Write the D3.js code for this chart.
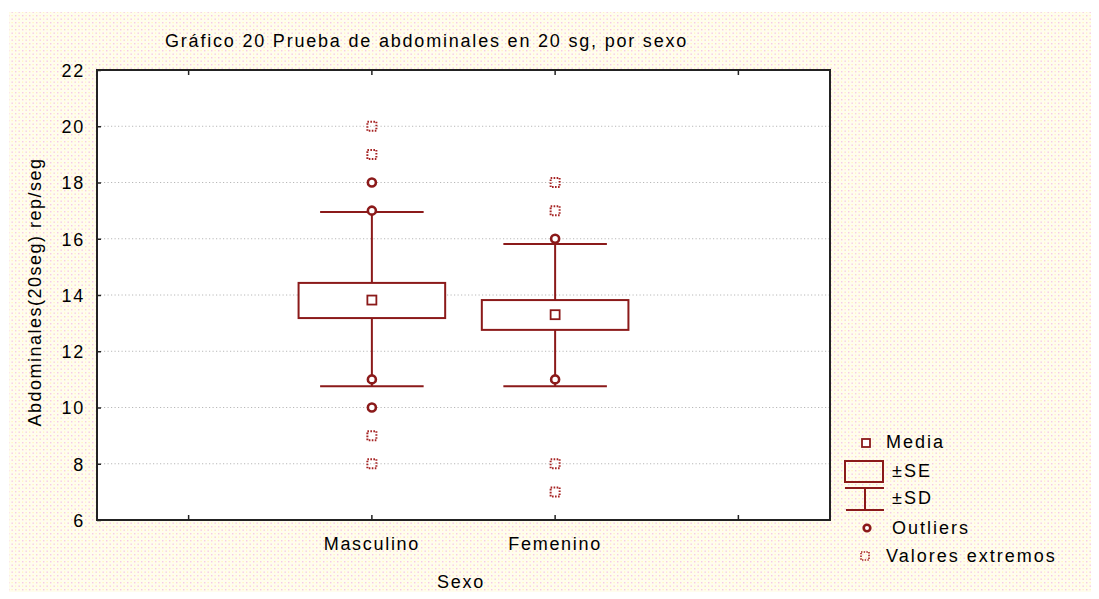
<!DOCTYPE html>
<html>
<head>
<meta charset="utf-8">
<script src="https://cdn.jsdelivr.net/npm/d3@7"></script>
<style>
  html, body { margin: 0; padding: 0; background: #ffffff; }
  svg { display: block; }
  text { font-family: "Liberation Sans", Arial, sans-serif; fill: #000; }
</style>
</head>
<body>
<svg id="chart" width="1099" height="599"></svg>
<script>
// ---- data ----
const categories = ["Masculino", "Femenino"];
const means   = [13.82, 13.30];
const seLow   = [13.18, 12.76];
const seHigh  = [14.43, 13.82];
const sdLow   = [10.76, 10.76];
const sdHigh  = [16.95, 15.81];
const outliers = [[18, 17, 11, 10], [16, 11]];
const extremes = [[20, 19, 9, 8], [18, 17, 8, 7]];
const yTicks = [6, 8, 10, 12, 14, 16, 18, 20, 22];
const gridTicks = [8, 10, 12, 14, 16, 18, 20];
const legendItems = ["Media", "\u00b1SE", "\u00b1SD", "Outliers", "Valores extremos"];
const titleText = "Gr\u00e1fico 20 Prueba de abdominales en 20 sg, por sexo";
const xTitle = "Sexo";
const yTitle = "Abdominales(20seg) rep/seg";

const RED = "#8b1a1a";
const XRED = "#a52222";
const svg = d3.select("#chart");

// background texture
const defs = svg.append("defs");
const pat = defs.append("pattern").attr("id", "tex").attr("patternUnits", "userSpaceOnUse")
  .attr("width", 7).attr("height", 7);
pat.append("rect").attr("width", 7).attr("height", 7).attr("fill", "#fffdee");
pat.append("rect").attr("x", 1).attr("y", 1).attr("width", 1.4).attr("height", 1.4).attr("fill", "#f6c8e6");
pat.append("rect").attr("x", 4.5).attr("y", 4.5).attr("width", 1.4).attr("height", 1.4).attr("fill", "#f6c8e6");
pat.append("rect").attr("x", 4.5).attr("y", 1).attr("width", 1.2).attr("height", 1.2).attr("fill", "#fff4b8");
pat.append("rect").attr("x", 1).attr("y", 4.5).attr("width", 1.2).attr("height", 1.2).attr("fill", "#fff4b8");

svg.append("rect").attr("x", 9).attr("y", 12).attr("width", 1082).attr("height", 580).attr("fill", "url(#tex)");

const L = 97, R = 830, T = 70, B = 520;

const x = d3.scaleBand().domain(["_a", ...categories, "_b"]).range([L, R]).padding(0);
const y = d3.scaleLinear().domain([6, 22]).range([B, T]);
const cx = c => x(c) + x.bandwidth() / 2;

// plot area
svg.append("rect").attr("x", L).attr("y", T).attr("width", R - L).attr("height", B - T).attr("fill", "#fff");

// grid
svg.append("g").selectAll("line").data(gridTicks).join("line")
  .attr("x1", L).attr("x2", R).attr("y1", d => y(d)).attr("y2", d => y(d))
  .attr("stroke", "#b8b8b8").attr("stroke-width", 1).attr("stroke-dasharray", "1.2,2.3");

// axes
const fmtX = d => d.startsWith("_") ? "" : d;
const gB = svg.append("g").attr("transform", `translate(0,${B})`)
  .call(d3.axisBottom(x).tickSizeInner(-5).tickSizeOuter(0).tickPadding(17).tickFormat(fmtX));
const gT = svg.append("g").attr("transform", `translate(0,${T})`)
  .call(d3.axisTop(x).tickSizeInner(-5).tickSizeOuter(0).tickFormat(() => ""));
const gL = svg.append("g").attr("transform", `translate(${L},0)`)
  .call(d3.axisLeft(y).tickValues(yTicks).tickSizeInner(-4).tickSizeOuter(0).tickPadding(12).tickFormat(d3.format("d")));
[gB, gT, gL].forEach(g => {
  g.select(".domain").remove();
  g.selectAll(".tick line").attr("stroke", "#222").attr("stroke-width", 1.5);
  g.selectAll("text").attr("font-size", 18).attr("letter-spacing", "1.7px")
    .attr("font-family", "'Liberation Sans', Arial, sans-serif").attr("fill", "#000");
});
gL.selectAll("text").attr("dy", "0.36em");

// frame
svg.append("rect").attr("x", L).attr("y", T).attr("width", R - L).attr("height", B - T)
  .attr("fill", "none").attr("stroke", "#222").attr("stroke-width", 2);

// box plots
const boxW = x.bandwidth() * 0.8;
const capW = x.bandwidth() * 0.565;
const g = svg.append("g");
categories.forEach((c, i) => {
  const xc = cx(c);
  g.append("line").attr("x1", xc).attr("x2", xc).attr("y1", y(sdHigh[i])).attr("y2", y(seHigh[i]))
    .attr("stroke", RED).attr("stroke-width", 2);
  g.append("line").attr("x1", xc).attr("x2", xc).attr("y1", y(seLow[i])).attr("y2", y(sdLow[i]))
    .attr("stroke", RED).attr("stroke-width", 2);
  [sdHigh[i], sdLow[i]].forEach(v => {
    g.append("line").attr("x1", xc - capW / 2).attr("x2", xc + capW / 2).attr("y1", y(v)).attr("y2", y(v))
      .attr("stroke", RED).attr("stroke-width", 2);
  });
  g.append("rect").attr("x", xc - boxW / 2).attr("y", y(seHigh[i])).attr("width", boxW)
    .attr("height", y(seLow[i]) - y(seHigh[i])).attr("fill", "#fff").attr("stroke", RED).attr("stroke-width", 2);
  g.append("rect").attr("x", xc - 4.5).attr("y", y(means[i]) - 4.5).attr("width", 9).attr("height", 9)
    .attr("fill", "#fff").attr("stroke", RED).attr("stroke-width", 1.8);
  outliers[i].forEach(v => {
    g.append("circle").attr("cx", xc).attr("cy", y(v)).attr("r", 4)
      .attr("fill", "#fff").attr("stroke", RED).attr("stroke-width", 2.6);
  });
  extremes[i].forEach(v => {
    g.append("rect").attr("x", xc - 4.5).attr("y", y(v) - 4.5).attr("width", 9).attr("height", 9)
      .attr("fill", "none").attr("stroke", XRED).attr("stroke-width", 2).attr("stroke-dasharray", "1.6,1.4");
  });
});

// titles
svg.append("text").attr("x", 165).attr("y", 47).attr("font-size", 18).attr("letter-spacing", "1.8px")
  .text(titleText);
svg.append("text").attr("x", 461).attr("y", 588).attr("text-anchor", "middle")
  .attr("font-size", 18).attr("letter-spacing", "1.7px").text(xTitle);
svg.append("text").attr("transform", `translate(41,292) rotate(-90)`)
  .attr("text-anchor", "middle").attr("font-size", 18).attr("letter-spacing", "1.5px").text(yTitle);

// legend
const lg = svg.append("g");
const lt = (xx, yy, t) => lg.append("text").attr("x", xx).attr("y", yy).attr("dy", "0.36em")
  .attr("font-size", 18).attr("letter-spacing", "2px").text(t);
lg.append("rect").attr("x", 862).attr("y", 439).attr("width", 8).attr("height", 8)
  .attr("fill", "#fff").attr("stroke", RED).attr("stroke-width", 1.8);
lt(886, 442, legendItems[0]);
lg.append("rect").attr("x", 845).attr("y", 461).attr("width", 38).attr("height", 21)
  .attr("fill", "none").attr("stroke", RED).attr("stroke-width", 2);
lt(892, 471, legendItems[1]);
lg.append("line").attr("x1", 845).attr("x2", 884).attr("y1", 488).attr("y2", 488).attr("stroke", RED).attr("stroke-width", 2);
lg.append("line").attr("x1", 865).attr("x2", 865).attr("y1", 488).attr("y2", 510).attr("stroke", RED).attr("stroke-width", 2);
lg.append("line").attr("x1", 846).attr("x2", 884).attr("y1", 510).attr("y2", 510).attr("stroke", RED).attr("stroke-width", 2);
lt(892, 498, legendItems[2]);
lg.append("circle").attr("cx", 867).attr("cy", 528).attr("r", 3.3)
  .attr("fill", "#fff").attr("stroke", RED).attr("stroke-width", 2.6);
lt(892, 528, legendItems[3]);
lg.append("rect").attr("x", 861).attr("y", 552).attr("width", 8).attr("height", 8)
  .attr("fill", "none").attr("stroke", XRED).attr("stroke-width", 1.6).attr("stroke-dasharray", "1.4,1.3");
lt(886, 556, legendItems[4]);
</script>
</body>
</html>
